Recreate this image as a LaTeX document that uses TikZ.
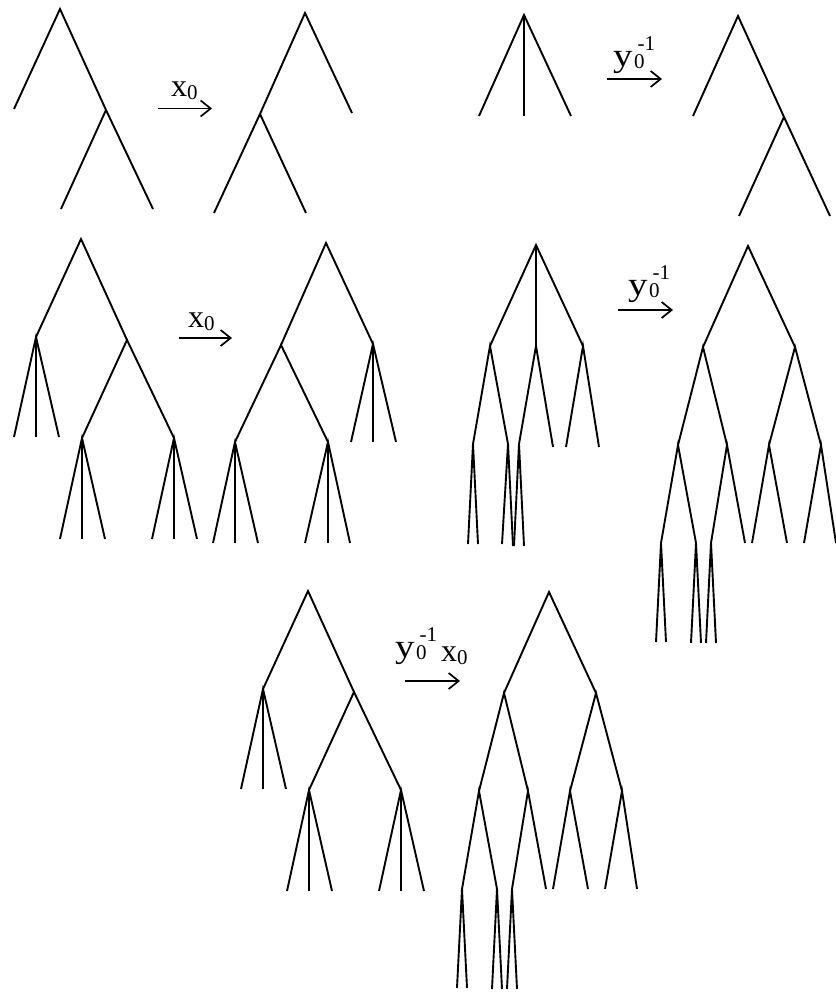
\documentclass[tikz,border=0pt]{standalone}
\usepackage{fontspec}
\setmainfont{Liberation Serif}
\usetikzlibrary{arrows.meta}
\newcommand\bigf{\fontsize{32}{32}\selectfont}
\newcommand\yf{\fontsize{33}{33}\selectfont}
\newcommand\smf{\fontsize{21}{21}\selectfont}
\newcommand\xlab{\rlap{\bigf x}\hspace{16pt}{\smf\raisebox{-3pt}{0}}}
\newcommand\ylab{\rlap{\yf\scalebox{1.18}[1]{y}}\hspace{21pt}\rlap{\smf\raisebox{-2.5pt}{0}}\hspace{3.5pt}{\smf\raisebox{16pt}{-1}}}
\tikzset{
  edge/.style={line width=1.9pt},
  maparrow/.style={line width=1.7pt,-{Straight Barb[length=10pt,width=16pt]}},
  lab/.style={inner sep=0pt,anchor=base west},
}
% tree with a ternary left child and binary right child carrying two ternary nodes
\newcommand\treeA[3]{%
\begin{scope}[shift={(#2,#3)}]
\coordinate (#1r) at (0,0);
\coordinate (#1a) at (-45,98);
\coordinate (#1b) at (46,101);
\coordinate (#1aA) at (-67,198);
\coordinate (#1aB) at (-45,198);
\coordinate (#1aC) at (-22,198);
\coordinate (#1bA) at (1,199);
\coordinate (#1bB) at (93,199);
\coordinate (#1bAA) at (-21,300);
\coordinate (#1bAB) at (1,300);
\coordinate (#1bAC) at (24,300);
\coordinate (#1bBA) at (71,300);
\coordinate (#1bBB) at (93,300);
\coordinate (#1bBC) at (116,300);
\draw[edge] (#1a) -- (#1r) -- (#1b);
\draw[edge] (#1aA) -- (#1a) -- (#1aC);
\draw[edge] (#1a) -- (#1aB);
\draw[edge] (#1bA) -- (#1b) -- (#1bB);
\draw[edge] (#1bAA) -- (#1bA) -- (#1bAC);
\draw[edge] (#1bA) -- (#1bAB);
\draw[edge] (#1bBA) -- (#1bB) -- (#1bBC);
\draw[edge] (#1bB) -- (#1bBB);
\end{scope}}
% binary tree image
\newcommand\treeB[3]{%
\begin{scope}[shift={(#2,#3)}]
\coordinate (#1r) at (0,0);
\coordinate (#1s) at (-45,101);
\coordinate (#1t) at (47,101);
\coordinate (#1sA) at (-70,199);
\coordinate (#1sB) at (-21,199);
\coordinate (#1tA) at (21,199);
\coordinate (#1tB) at (73,199);
\coordinate (#1sAA) at (-87,297);
\coordinate (#1sAB) at (-52,297);
\coordinate (#1sBA) at (-37,297);
\coordinate (#1sBB) at (-3,297);
\coordinate (#1tAA) at (4,297);
\coordinate (#1tAB) at (39,297);
\coordinate (#1tBA) at (56,297);
\coordinate (#1tBB) at (88,297);
\coordinate (#1sAAA) at (-92,396);
\coordinate (#1sAAB) at (-82,396);
\coordinate (#1sABA) at (-57,397);
\coordinate (#1sABB) at (-47,397);
\coordinate (#1sBAA) at (-42,397);
\coordinate (#1sBAB) at (-32,397);
\draw[edge] (#1s) -- (#1r) -- (#1t);
\draw[edge] (#1sA) -- (#1s) -- (#1sB);
\draw[edge] (#1tA) -- (#1t) -- (#1tB);
\draw[edge] (#1sAA) -- (#1sA) -- (#1sAB);
\draw[edge] (#1sBA) -- (#1sB) -- (#1sBB);
\draw[edge] (#1tAA) -- (#1tA) -- (#1tAB);
\draw[edge] (#1tBA) -- (#1tB) -- (#1tBB);
\draw[edge] (#1sAAA) -- (#1sAA) -- (#1sAAB);
\draw[edge] (#1sABA) -- (#1sAB) -- (#1sABB);
\draw[edge] (#1sBAA) -- (#1sBA) -- (#1sBAB);
\end{scope}}
\begin{document}
\begin{tikzpicture}[x=1pt,y=-1pt]
\useasboundingbox (0,0) rectangle (835,992);

% ---------- row 1, left pair ----------
\coordinate (Ar) at (60,9);
\coordinate (Al) at (14,109);
\coordinate (An) at (106,110);
\coordinate (AnA) at (61,209);
\coordinate (AnB) at (153,209);
\draw[edge] (Al) -- (Ar) -- (An) -- (AnB);
\draw[edge] (AnA) -- (An);

\coordinate (Bc) at (305,13);
\coordinate (Bl) at (260,114);
\coordinate (Brr) at (352,113);
\coordinate (BlA) at (214,213);
\coordinate (BlB) at (306,213);
\draw[edge] (BlA) -- (Bl) -- (Bc) -- (Brr);
\draw[edge] (Bl) -- (BlB);

\coordinate (e1s) at (158,108.5);
\coordinate (e1e) at (212,108.5);
\draw[maparrow] (e1s) -- (e1e);
\node[lab] (L1) at (171,97) {\xlab};

% ---------- row 1, right pair ----------
\coordinate (Cr) at (524,15);
\coordinate (CA) at (479,116);
\coordinate (CB) at (524,116);
\coordinate (CC) at (571,116);
\draw[edge] (CA) -- (Cr) -- (CC);
\draw[edge] (Cr) -- (CB);

\coordinate (Dr) at (738,16);
\coordinate (Dl) at (693,116);
\coordinate (Dn) at (784,117);
\coordinate (DnA) at (739,216);
\coordinate (DnB) at (830,216);
\draw[edge] (Dl) -- (Dr) -- (Dn) -- (DnB);
\draw[edge] (DnA) -- (Dn);

\coordinate (e2s) at (607,79);
\coordinate (e2e) at (662,79);
\draw[maparrow] (e2s) -- (e2e);
\node[lab] (L2) at (613,66.5) {\ylab};

% ---------- row 2, left pair ----------
\treeA{E}{81}{239}

\coordinate (Fr) at (326,243);
\coordinate (Fc) at (373,344);
\coordinate (Fd) at (281,345);
\coordinate (FcA) at (351,442);
\coordinate (FcB) at (373,442);
\coordinate (FcC) at (396,442);
\coordinate (FdA) at (235,442);
\coordinate (FdB) at (328,442);
\coordinate (FdAA) at (213,543);
\coordinate (FdAB) at (235,543);
\coordinate (FdAC) at (258,543);
\coordinate (FdBA) at (305,543);
\coordinate (FdBB) at (328,543);
\coordinate (FdBC) at (350,543);
\draw[edge] (Fd) -- (Fr) -- (Fc);
\draw[edge] (FcA) -- (Fc) -- (FcC);
\draw[edge] (Fc) -- (FcB);
\draw[edge] (FdA) -- (Fd) -- (FdB);
\draw[edge] (FdAA) -- (FdA) -- (FdAC);
\draw[edge] (FdA) -- (FdAB);
\draw[edge] (FdBA) -- (FdB) -- (FdBC);
\draw[edge] (FdB) -- (FdBB);

\coordinate (e3s) at (179,338);
\coordinate (e3e) at (232,338);
\draw[maparrow] (e3s) -- (e3e);
\node[lab] (L3) at (188,327.5) {\xlab};

% ---------- row 2, right pair ----------
\begin{scope}[shift={(536,245)}]
\coordinate (Gr) at (0,0);
\coordinate (Gp) at (-46,101);
\coordinate (Gq) at (0,101);
\coordinate (Gw) at (47,101);
\coordinate (GpA) at (-63,199);
\coordinate (GpB) at (-28,199);
\coordinate (GqA) at (-17,199);
\coordinate (GqB) at (17,202);
\coordinate (GwA) at (30,202);
\coordinate (GwB) at (63,202);
\coordinate (GpAA) at (-68,299);
\coordinate (GpAB) at (-58,299);
\coordinate (GpBA) at (-34,299);
\coordinate (GpBB) at (-23,301);
\coordinate (GqAA) at (-22,301);
\coordinate (GqAB) at (-12,301);
\end{scope}
\draw[edge] (Gp) -- (Gr) -- (Gw);
\draw[edge] (Gr) -- (Gq);
\draw[edge] (GpA) -- (Gp) -- (GpB);
\draw[edge] (GqA) -- (Gq) -- (GqB);
\draw[edge] (GwA) -- (Gw) -- (GwB);
\draw[edge] (GpAA) -- (GpA) -- (GpAB);
\draw[edge] (GpBA) -- (GpB) -- (GpBB);
\draw[edge] (GqAA) -- (GqA) -- (GqAB);

\treeB{H}{748}{246}

\coordinate (e4s) at (618,310);
\coordinate (e4e) at (673,310);
\draw[maparrow] (e4s) -- (e4e);
\node[lab] (L4) at (628,295) {\ylab};

% ---------- row 3 ----------
\treeA{I}{308}{591}
\treeB{J}{549}{592}

\coordinate (e5s) at (405,681);
\coordinate (e5e) at (460,681);
\draw[maparrow] (e5s) -- (e5e);
\node[lab] (L5) at (395,657) {\ylab\hspace{4pt}\raisebox{-4pt}{\xlab}};
\end{tikzpicture}
\end{document}
